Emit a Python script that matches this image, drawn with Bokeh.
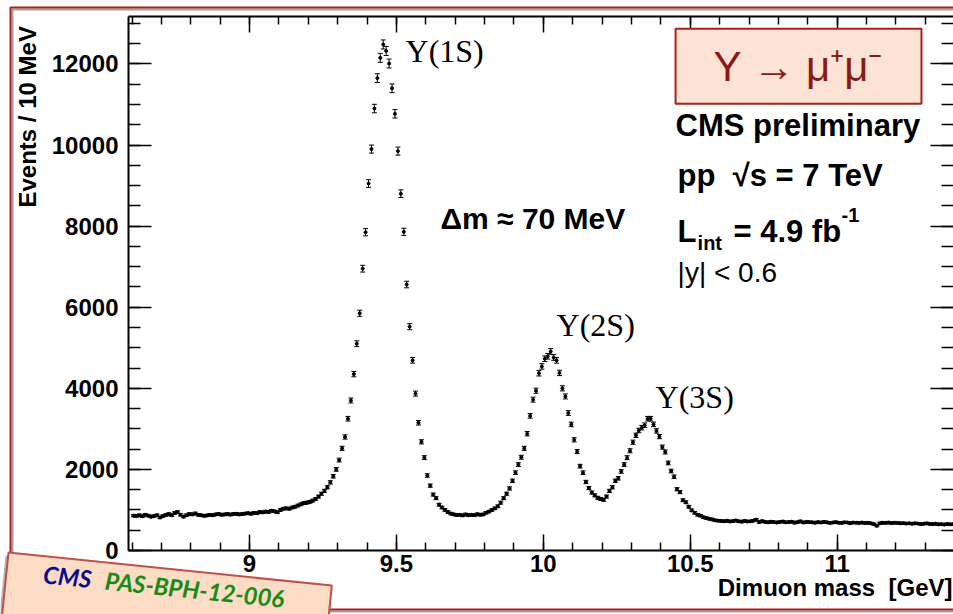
import math
import numpy as np
from bokeh.plotting import figure
from bokeh.models import (LinearAxis, Range1d, NumeralTickFormatter, CustomJSTickFormatter,
                          SingleIntervalTicker, Whisker, TeeHead, ColumnDataSource, Label,
                          BoxAnnotation, PolyAnnotation)
from bokeh.embed import file_html
from bokeh.resources import INLINE

# ---------------- data (Events / 10 MeV, dimuon mass histogram) ----------------
bin_start = 8.6          # GeV, lower edge of first bin
bin_width = 0.01         # GeV
counts = [
    860, 850, 870, 845, 880, 860, 835, 850, 870, 815,
    850, 875, 900, 870, 925, 950, 880, 835, 870, 900,
    890, 915, 880, 870, 855, 865, 880, 870, 890, 900,
    880, 890, 900, 885, 900, 905, 890, 900, 910, 920,
    905, 930, 920, 950, 940, 960, 950, 980, 965, 945,
    1000, 1030, 1040, 1030, 1060, 1080, 1110, 1140, 1170, 1180,
    1200, 1230, 1270, 1330, 1400, 1470, 1560, 1680, 1830, 2000,
    2230, 2520, 2800, 3250, 3700, 4350, 5100, 5850, 6950, 7850,
    9050, 9900, 10900, 11650, 12150, 12480, 12320, 12010, 11400, 10770,
    9850, 8800, 7860, 6560, 5520, 4690, 3870, 3150, 2680, 2290,
    1850, 1600, 1380, 1290, 1130, 1060, 1000, 950, 910, 890,
    875, 880, 865, 890, 870, 880, 870, 895, 880, 890,
    930, 960, 1000, 1040, 1090, 1180, 1290, 1400, 1530, 1720,
    1920, 2120, 2300, 2520, 2880, 3320, 3720, 3940, 4370, 4540,
    4730, 4790, 4910, 4760, 4690, 4380, 4000, 3800, 3390, 3110,
    2730, 2440, 2080, 1920, 1690, 1540, 1430, 1360, 1300, 1270,
    1250, 1330, 1470, 1560, 1720, 1780, 1950, 2120, 2290, 2460,
    2670, 2840, 2960, 3030, 3090, 3250, 3250, 3110, 2950, 2810,
    2550, 2430, 2160, 1960, 1820, 1510, 1440, 1240, 1190, 1080,
    990, 930, 880, 860, 820, 800, 780, 765, 745, 735,
    730, 720, 735, 715, 725, 740, 720, 710, 730, 715,
    720, 735, 760, 700, 725, 705, 695, 710, 700, 690,
    705, 715, 695, 700, 710, 685, 700, 720, 690, 705,
    700, 695, 685, 700, 690, 705, 695, 680, 690, 700,
    685, 680, 695, 690, 675, 690, 685, 680, 690, 675,
    685, 670, 650, 610, 670, 685, 680, 690, 675, 685,
    680, 670, 675, 665, 670, 660, 670, 665, 650, 660,
    670, 655, 650, 660, 645, 650, 640, 655, 645, 650,
]
x_tick_interval = 0.5
y_tick_interval = 2000
x_limits = (8.588, 11.396)
y_limits = (0, 13170)

x_title = "Dimuon mass\u00a0\u00a0[GeV]"
y_title = "Events / 10 MeV"

# -------------------------------------------------------------------------------
centers = bin_start + bin_width * (np.arange(len(counts)) + 0.5)
vals = np.array(counts, dtype=float)
errs = np.sqrt(vals)
src = ColumnDataSource(dict(x=centers, y=vals, lo=vals - errs, hi=vals + errs))

SANS = "Liberation Sans"
SERIF = "Liberation Serif"
RED = "#a8201a"

p = figure(width=953, height=614, output_backend="svg", toolbar_location=None,
           x_range=Range1d(*x_limits), y_range=Range1d(*y_limits),
           min_border_left=128, min_border_right=0, min_border_top=16, min_border_bottom=64)
p.styles = {"position": "absolute", "left": "0px", "top": "0px"}
p.background_fill_color = "white"
p.border_fill_color = "white"
p.outline_line_color = None
p.grid.visible = False

xt = SingleIntervalTicker(interval=x_tick_interval, num_minor_ticks=5)
yt = SingleIntervalTicker(interval=y_tick_interval, num_minor_ticks=4)

xa = p.xaxis[0]
ya = p.yaxis[0]
xa.ticker = xt
ya.ticker = yt
xa.formatter = NumeralTickFormatter(format="0.[0]")
ya.formatter = NumeralTickFormatter(format="0")

for ax in (xa, ya):
    ax.axis_line_width = 2
    ax.axis_line_color = "black"
    ax.major_tick_line_width = 1.5
    ax.minor_tick_line_width = 1.5
    ax.major_tick_out = 0
    ax.minor_tick_out = 0
    ax.major_label_text_font = SANS
    ax.major_label_text_font_style = "bold"
    ax.major_label_text_font_size = "24px"
    ax.major_label_text_color = "black"

xa.major_tick_in = 16
xa.minor_tick_in = 8
xa.major_label_standoff = 4

ya.major_tick_in = 23
ya.minor_tick_in = 12
ya.major_label_standoff = 10

blank = CustomJSTickFormatter(code="return ''")
top = LinearAxis(ticker=xt, formatter=blank, major_label_text_font_size="1px",
                 major_label_standoff=0, major_tick_in=16, major_tick_out=0,
                 minor_tick_in=8, minor_tick_out=0, axis_line_width=2,
                 major_tick_line_width=1.5, minor_tick_line_width=1.5)
right = LinearAxis(ticker=yt, formatter=blank, major_label_text_font_size="1px",
                   major_label_standoff=0, major_tick_in=23, major_tick_out=0,
                   minor_tick_in=12, minor_tick_out=0, axis_line_color=None,
                   major_tick_line_width=1.5, minor_tick_line_width=1.5)
p.add_layout(top, "above")
p.add_layout(right, "right")

# data: error bars + markers
head = dict(size=5, line_color="black", line_width=1)
p.add_layout(Whisker(base="x", lower="lo", upper="hi", source=src,
                     line_color="black", line_width=1,
                     upper_head=TeeHead(**head), lower_head=TeeHead(**head)))
p.scatter("x", "y", source=src, size=3, color="black")


def lab(fig, x, y, text, size, font=SANS, style="normal", color="black", align="left",
        baseline="alphabetic", **kw):
    l = Label(x=x, y=y, text=text, text_font=font, text_font_size=size,
              text_font_style=style, text_color=color, text_align=align,
              text_baseline=baseline, **kw)
    fig.add_layout(l)
    return l


# peak labels
lab(p, 9.531, 12323, "Υ(1S)", "32px", font=SERIF)
lab(p, 10.045, 5567, "Υ(2S)", "32px", font=SERIF)
lab(p, 10.382, 3792, "Υ(3S)", "32px", font=SERIF)
lab(p, 9.650, 8185, "Δm ≈ 70 MeV", "30px", style="bold")

# decay box
p.add_layout(BoxAnnotation(left=10.450, right=11.287, top=12870, bottom=11021,
                           fill_color="#fde3d5", fill_alpha=1, line_color=RED,
                           line_alpha=1, line_width=2))
lab(p, 10.868, 11928, "Υ → μ⁺μ⁻", "42px", color="#8c1a14", align="center")

# CMS text block
lab(p, 10.450, 10488, "CMS preliminary", "31px", style="bold")
lab(p, 10.457, 9256, "pp\u00a0\u00a0√s = 7 TeV", "31px", style="bold")
lab(p, 10.457, 7875, "L", "31px", style="bold")
lab(p, 10.525, 7594, "int", "20px", style="bold")
lab(p, 10.647, 7875, "= 4.9 fb", "31px", style="bold")
lab(p, 11.015, 8284, "-1", "20px", style="bold")
lab(p, 10.457, 6849, "|y| < 0.6", "28px")

# ---------------- overlay: axis titles, slide frame and bottom-left stamp ----------------
ov = figure(width=953, height=614, output_backend="svg", toolbar_location=None,
            x_range=Range1d(0, 953), y_range=Range1d(614, 0),
            x_axis_location=None, y_axis_location=None, min_border=0)
ov.styles = {"position": "absolute", "left": "0px", "top": "0px"}
ov.background_fill_alpha = 0
ov.border_fill_alpha = 0
ov.outline_line_color = None
ov.grid.visible = False

ov.add_layout(BoxAnnotation(left=12, right=970, top=9, bottom=611, fill_color=None,
                            line_color="#8a8a8a", line_alpha=0.8, line_width=2))
ov.add_layout(BoxAnnotation(left=10, right=968, top=7, bottom=609, fill_color=None,
                            line_color=RED, line_alpha=1, line_width=2))

# axis titles
lab(ov, 952, 587.4, x_title, "24px", style="bold", align="right")
lab(ov, 27.4, 207, y_title, "24px", style="bold", angle=math.pi / 2)

# stamp (tilted note card)
ang = 0.102                      # clockwise tilt on screen
ux, uy = math.cos(ang), math.sin(ang)
nx, ny = -math.sin(ang), math.cos(ang)
cx0, cy0, W, H = 8.0, 552.0, 325.0, 70.0


def card(dx=0.0, dy=0.0):
    xs = [cx0 + dx, cx0 + dx + W * ux, cx0 + dx + W * ux + H * nx, cx0 + dx + H * nx]
    ys = [cy0 + dy, cy0 + dy + W * uy, cy0 + dy + W * uy + H * ny, cy0 + dy + H * ny]
    return xs, ys


sx, sy = card(-3, 3)
ov.add_layout(PolyAnnotation(xs=sx, ys=sy, fill_color="#777777", fill_alpha=0.55,
                             line_color=None))
cxs, cys = card()
ov.add_layout(PolyAnnotation(xs=cxs, ys=cys, fill_color="#fcdcc4", fill_alpha=1,
                             line_color="#c0504d", line_alpha=1, line_width=2))


def on_card(u, v):
    return cx0 + u * ux + v * nx, cy0 + u * uy + v * ny


px_, py_ = on_card(99, 3)
lab(ov, px_, py_, "PAS-BPH-12-006", "24px", font="Lato", style="bold italic",
    color="#178a17", angle=-ang, baseline="top")
px_, py_ = on_card(37, 3)
lab(ov, px_, py_, "CMS", "24px", font="Lato", style="bold italic",
    color="#0a0a8c", angle=-ang, baseline="top")

open("out.html", "w").write(file_html([p, ov], INLINE))
